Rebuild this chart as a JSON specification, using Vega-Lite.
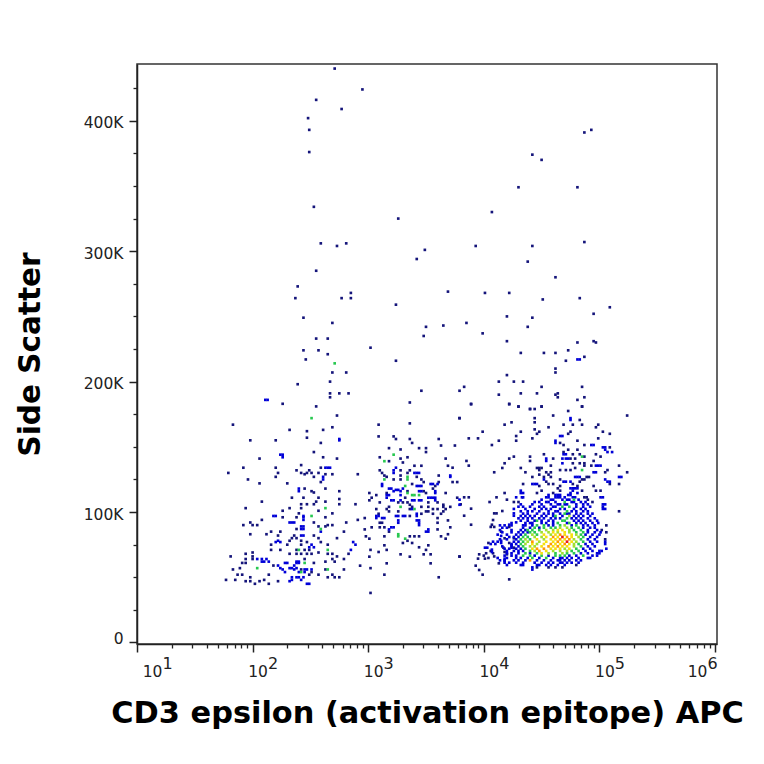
{"$schema":"https://vega.github.io/schema/vega-lite/v6.json","width":580,"height":580,"autosize":"none","padding":{"left":137,"top":64,"right":47,"bottom":120},"background":"white","config":{"view":{"stroke":"#333333","strokeWidth":1.5},"axis":{"grid":false,"labelFont":"DejaVu Sans","titleFont":"DejaVu Sans","tickColor":"#222222","domainColor":"#222222","labelColor":"#222222","labelBound":false,"labelFlush":false,"labelOverlap":false}},"datasets":{"cells":[
{"apc":2.71,"ssc":440,"n":1},{"apc":2.95,"ssc":424,"n":1},{"apc":2.55,"ssc":416,"n":1},{"apc":2.77,"ssc":409,"n":1},{"apc":2.48,"ssc":402,"n":1},{"apc":2.49,"ssc":393,"n":1},{"apc":2.49,"ssc":376,"n":1},{"apc":2.53,"ssc":334,"n":1},{"apc":3.26,"ssc":325,"n":1},
{"apc":2.59,"ssc":306,"n":1},{"apc":2.73,"ssc":304,"n":1},{"apc":2.81,"ssc":306,"n":1},{"apc":2.55,"ssc":285,"n":1},{"apc":2.39,"ssc":273,"n":1},{"apc":2.37,"ssc":264,"n":1},{"apc":2.77,"ssc":264,"n":1},{"apc":2.85,"ssc":268,"n":1},{"apc":2.85,"ssc":264,"n":1},{"apc":3.24,"ssc":259,"n":1},{"apc":2.44,"ssc":249,"n":1},{"apc":2.69,"ssc":245,"n":1},{"apc":2.55,"ssc":233,"n":1},{"apc":2.65,"ssc":233,"n":1},{"apc":2.44,"ssc":224,"n":1},{"apc":2.57,"ssc":224,"n":1},{"apc":3.02,"ssc":226,"n":1},{"apc":2.65,"ssc":221,"n":1},{"apc":2.46,"ssc":217,"n":1},{"apc":2.71,"ssc":214,"n":3},{"apc":3.24,"ssc":216,"n":1},{"apc":2.69,"ssc":207,"n":1},{"apc":2.81,"ssc":207,"n":1},{"apc":2.67,"ssc":200,"n":1},{"apc":2.39,"ssc":198,"n":1},{"apc":2.67,"ssc":191,"n":1},{"apc":2.75,"ssc":191,"n":1},{"apc":2.83,"ssc":191,"n":1},{"apc":2.67,"ssc":188,"n":1},{"apc":2.11,"ssc":186,"n":2},{"apc":2.13,"ssc":186,"n":2},
{"apc":4.87,"ssc":391,"n":1},{"apc":4.93,"ssc":393,"n":1},{"apc":4.42,"ssc":374,"n":1},{"apc":4.5,"ssc":370,"n":1},{"apc":4.3,"ssc":349,"n":1},{"apc":4.81,"ssc":349,"n":1},{"apc":4.07,"ssc":330,"n":1},{"apc":3.49,"ssc":301,"n":1},{"apc":3.42,"ssc":294,"n":1},{"apc":3.93,"ssc":304,"n":1},{"apc":4.42,"ssc":304,"n":1},{"apc":4.38,"ssc":292,"n":1},{"apc":4.87,"ssc":307,"n":1},
{"apc":4.62,"ssc":280,"n":1},{"apc":3.69,"ssc":269,"n":1},{"apc":4.01,"ssc":268,"n":1},{"apc":4.22,"ssc":268,"n":1},{"apc":4.51,"ssc":263,"n":1},{"apc":4.83,"ssc":264,"n":1},{"apc":5.09,"ssc":257,"n":1},{"apc":4.95,"ssc":252,"n":1},{"apc":4.2,"ssc":250,"n":1},{"apc":4.42,"ssc":249,"n":1},{"apc":3.5,"ssc":242,"n":1},{"apc":3.65,"ssc":243,"n":1},{"apc":3.85,"ssc":245,"n":1},{"apc":4.38,"ssc":242,"n":1},{"apc":3.48,"ssc":235,"n":1},{"apc":3.99,"ssc":237,"n":1},{"apc":4.2,"ssc":231,"n":1},{"apc":4.81,"ssc":230,"n":1},{"apc":4.95,"ssc":231,"n":1},{"apc":4.97,"ssc":230,"n":1},{"apc":4.32,"ssc":222,"n":1},{"apc":4.52,"ssc":222,"n":1},{"apc":4.62,"ssc":222,"n":1},{"apc":4.73,"ssc":224,"n":1},{"apc":4.71,"ssc":216,"n":1},{"apc":4.81,"ssc":217,"n":2},{"apc":4.83,"ssc":217,"n":2},{"apc":4.87,"ssc":219,"n":1},{"apc":4.62,"ssc":210,"n":1},{"apc":4.62,"ssc":207,"n":1},{"apc":4.2,"ssc":205,"n":1},{"apc":4.13,"ssc":200,"n":1},{"apc":4.26,"ssc":200,"n":1},{"apc":4.34,"ssc":200,"n":1},{"apc":4.5,"ssc":196,"n":1},{"apc":4.85,"ssc":196,"n":1},{"apc":3.46,"ssc":193,"n":1},{"apc":3.79,"ssc":193,"n":1},{"apc":3.83,"ssc":196,"n":1},{"apc":3.36,"ssc":184,"n":1},{"apc":4.13,"ssc":190,"n":1},{"apc":4.32,"ssc":191,"n":1},{"apc":4.46,"ssc":191,"n":1},{"apc":4.64,"ssc":191,"n":1},{"apc":4.62,"ssc":190,"n":1},{"apc":4.64,"ssc":188,"n":1},{"apc":4.87,"ssc":188,"n":1},{"apc":4.81,"ssc":186,"n":1},{"apc":3.89,"ssc":183,"n":1},{"apc":4.22,"ssc":183,"n":1},{"apc":4.3,"ssc":181,"n":1},{"apc":4.5,"ssc":181,"n":1},{"apc":4.85,"ssc":181,"n":1},{"apc":4.4,"ssc":179,"n":1},{"apc":4.44,"ssc":179,"n":1},
{"apc":2.26,"ssc":183,"n":1},{"apc":2.55,"ssc":181,"n":1},{"apc":2.51,"ssc":172,"n":3},{"apc":2.73,"ssc":174,"n":1},{"apc":1.83,"ssc":167,"n":1},{"apc":2.32,"ssc":163,"n":1},{"apc":2.47,"ssc":162,"n":1},{"apc":2.61,"ssc":163,"n":1},{"apc":2.69,"ssc":165,"n":1},{"apc":2.47,"ssc":157,"n":1},{"apc":1.98,"ssc":155,"n":1},{"apc":2.2,"ssc":155,"n":1},{"apc":2.59,"ssc":153,"n":1},{"apc":2.75,"ssc":156,"n":2},{"apc":2.75,"ssc":155,"n":2},{"apc":2.24,"ssc":144,"n":2},{"apc":2.26,"ssc":144,"n":2},{"apc":2.26,"ssc":142,"n":2},{"apc":2.53,"ssc":146,"n":1},{"apc":2.06,"ssc":141,"n":1},{"apc":2.61,"ssc":142,"n":1},{"apc":2.73,"ssc":141,"n":1},{"apc":2.42,"ssc":136,"n":1},{"apc":2.2,"ssc":134,"n":1},{"apc":1.92,"ssc":134,"n":1},{"apc":1.79,"ssc":130,"n":1},{"apc":2.22,"ssc":130,"n":1},{"apc":2.2,"ssc":127,"n":1},{"apc":2.38,"ssc":132,"n":1},{"apc":2.42,"ssc":130,"n":1},{"apc":2.49,"ssc":132,"n":1},{"apc":2.47,"ssc":130,"n":1},{"apc":2.45,"ssc":129,"n":1},{"apc":2.51,"ssc":130,"n":1},{"apc":2.57,"ssc":130,"n":1},{"apc":2.63,"ssc":134,"n":2},{"apc":2.65,"ssc":134,"n":2},{"apc":2.67,"ssc":134,"n":2},{"apc":2.59,"ssc":134,"n":1},{"apc":2.61,"ssc":127,"n":2},{"apc":2.61,"ssc":125,"n":2},{"apc":2.63,"ssc":129,"n":1},{"apc":2.69,"ssc":129,"n":1},{"apc":2.53,"ssc":127,"n":1},{"apc":2.59,"ssc":123,"n":1},{"apc":1.96,"ssc":125,"n":1},{"apc":2.06,"ssc":122,"n":1},{"apc":2.3,"ssc":122,"n":1},{"apc":2.91,"ssc":129,"n":1},{"apc":2.4,"ssc":118,"n":2},{"apc":2.4,"ssc":116,"n":2},{"apc":2.45,"ssc":118,"n":1},{"apc":2.51,"ssc":116,"n":1},{"apc":2.53,"ssc":115,"n":1},{"apc":2.63,"ssc":118,"n":1},{"apc":2.75,"ssc":116,"n":1},{"apc":2.75,"ssc":110,"n":1},{"apc":2.75,"ssc":106,"n":1},{"apc":2.34,"ssc":111,"n":1},{"apc":2.44,"ssc":111,"n":1},{"apc":2.57,"ssc":111,"n":1},{"apc":2.08,"ssc":108,"n":1},{"apc":2.55,"ssc":108,"n":1},{"apc":2.42,"ssc":106,"n":1},{"apc":2.47,"ssc":106,"n":1},{"apc":2.53,"ssc":106,"n":1},{"apc":2.89,"ssc":106,"n":1},{"apc":2.63,"ssc":108,"n":1},{"apc":2.63,"ssc":103,"n":3},{"apc":1.94,"ssc":103,"n":1},{"apc":2.32,"ssc":103,"n":1},{"apc":2.26,"ssc":101,"n":1},{"apc":2.42,"ssc":103,"n":1},{"apc":2.4,"ssc":99,"n":1},{"apc":2.51,"ssc":97,"n":3},{"apc":2.69,"ssc":99,"n":1},{"apc":2.57,"ssc":101,"n":1},{"apc":2.18,"ssc":97,"n":2},{"apc":2.2,"ssc":97,"n":2},{"apc":2.26,"ssc":96,"n":1},{"apc":2.38,"ssc":96,"n":1},{"apc":2.44,"ssc":97,"n":2},{"apc":2.44,"ssc":96,"n":2},{"apc":2.44,"ssc":94,"n":2},{"apc":2.63,"ssc":96,"n":1},{"apc":2.08,"ssc":94,"n":1},{"apc":2.36,"ssc":92,"n":2},{"apc":2.32,"ssc":92,"n":2},{"apc":2.34,"ssc":92,"n":2},{"apc":2.53,"ssc":92,"n":1},{"apc":1.92,"ssc":90,"n":1},{"apc":1.98,"ssc":92,"n":1},{"apc":2.0,"ssc":90,"n":1},{"apc":2.04,"ssc":90,"n":1},{"apc":2.69,"ssc":90,"n":1},{"apc":2.81,"ssc":92,"n":1},{"apc":2.91,"ssc":94,"n":1},{"apc":2.65,"ssc":90,"n":1},{"apc":2.63,"ssc":89,"n":1},{"apc":2.57,"ssc":89,"n":1},{"apc":2.59,"ssc":87,"n":3},{"apc":2.59,"ssc":85,"n":2},{"apc":2.42,"ssc":89,"n":2},{"apc":2.44,"ssc":89,"n":2},{"apc":2.42,"ssc":87,"n":2},{"apc":2.44,"ssc":87,"n":2},{"apc":2.38,"ssc":87,"n":1},{"apc":2.16,"ssc":85,"n":1},{"apc":2.12,"ssc":83,"n":1},{"apc":2.24,"ssc":85,"n":1},{"apc":1.98,"ssc":83,"n":1},{"apc":2.79,"ssc":85,"n":1},{"apc":2.42,"ssc":82,"n":2},{"apc":2.44,"ssc":82,"n":2},{"apc":2.36,"ssc":82,"n":1},{"apc":2.34,"ssc":80,"n":1},{"apc":2.22,"ssc":82,"n":1},{"apc":2.38,"ssc":80,"n":1},{"apc":2.53,"ssc":82,"n":1},{"apc":2.73,"ssc":80,"n":1},{"apc":2.57,"ssc":80,"n":1},{"apc":2.22,"ssc":78,"n":2},{"apc":2.24,"ssc":77,"n":2},{"apc":2.2,"ssc":77,"n":2},{"apc":2.16,"ssc":75,"n":1},{"apc":2.32,"ssc":78,"n":1},{"apc":2.42,"ssc":78,"n":1},{"apc":2.47,"ssc":77,"n":1},{"apc":2.59,"ssc":77,"n":1},{"apc":2.65,"ssc":75,"n":1},{"apc":2.51,"ssc":75,"n":2},{"apc":2.49,"ssc":73,"n":2},{"apc":2.53,"ssc":73,"n":2},{"apc":2.87,"ssc":77,"n":2},{"apc":2.89,"ssc":75,"n":2},{"apc":2.85,"ssc":71,"n":2},{"apc":2.83,"ssc":68,"n":1},{"apc":2.16,"ssc":71,"n":1},{"apc":2.24,"ssc":71,"n":1},{"apc":2.3,"ssc":75,"n":1},{"apc":2.38,"ssc":71,"n":1},{"apc":2.42,"ssc":75,"n":1},{"apc":2.4,"ssc":71,"n":3},{"apc":2.45,"ssc":71,"n":1},{"apc":2.49,"ssc":71,"n":1},{"apc":2.65,"ssc":71,"n":3},{"apc":2.79,"ssc":64,"n":1},{"apc":2.73,"ssc":66,"n":1},{"apc":2.65,"ssc":68,"n":1},{"apc":2.69,"ssc":68,"n":1},{"apc":2.57,"ssc":69,"n":1},{"apc":2.51,"ssc":68,"n":1},{"apc":2.38,"ssc":68,"n":1},{"apc":2.47,"ssc":68,"n":1},{"apc":2.42,"ssc":68,"n":1},{"apc":2.0,"ssc":69,"n":1},{"apc":2.0,"ssc":66,"n":1},{"apc":1.94,"ssc":68,"n":1},{"apc":1.81,"ssc":66,"n":1},{"apc":1.94,"ssc":64,"n":1},{"apc":2.08,"ssc":64,"n":2},{"apc":2.0,"ssc":64,"n":1},{"apc":2.04,"ssc":64,"n":2},{"apc":2.12,"ssc":64,"n":2},{"apc":2.08,"ssc":62,"n":2},{"apc":2.1,"ssc":62,"n":2},{"apc":2.14,"ssc":62,"n":2},{"apc":2.18,"ssc":59,"n":1},{"apc":2.28,"ssc":61,"n":2},{"apc":2.3,"ssc":61,"n":2},{"apc":2.38,"ssc":62,"n":2},{"apc":2.4,"ssc":62,"n":2},{"apc":2.38,"ssc":61,"n":2},{"apc":2.4,"ssc":61,"n":2},{"apc":2.45,"ssc":64,"n":1},{"apc":2.45,"ssc":61,"n":3},{"apc":2.53,"ssc":61,"n":1},{"apc":2.63,"ssc":62,"n":1},{"apc":2.69,"ssc":64,"n":1},{"apc":2.71,"ssc":62,"n":1},{"apc":2.32,"ssc":68,"n":1},{"apc":1.91,"ssc":61,"n":1},{"apc":2.04,"ssc":57,"n":3},{"apc":1.94,"ssc":61,"n":1},{"apc":1.89,"ssc":57,"n":1},{"apc":2.22,"ssc":59,"n":2},{"apc":2.24,"ssc":57,"n":2},{"apc":2.26,"ssc":56,"n":2},{"apc":2.28,"ssc":54,"n":2},{"apc":2.32,"ssc":57,"n":2},{"apc":2.34,"ssc":57,"n":2},{"apc":2.36,"ssc":59,"n":2},{"apc":2.38,"ssc":57,"n":2},{"apc":2.36,"ssc":56,"n":2},{"apc":2.42,"ssc":56,"n":1},{"apc":2.45,"ssc":56,"n":2},{"apc":2.47,"ssc":56,"n":2},{"apc":2.51,"ssc":56,"n":2},{"apc":2.65,"ssc":56,"n":3},{"apc":2.63,"ssc":56,"n":1},{"apc":2.79,"ssc":56,"n":1},{"apc":1.83,"ssc":56,"n":1},{"apc":2.14,"ssc":52,"n":1},{"apc":1.87,"ssc":52,"n":1},{"apc":1.91,"ssc":52,"n":1},{"apc":2.1,"ssc":48,"n":1},{"apc":1.98,"ssc":50,"n":1},{"apc":1.77,"ssc":48,"n":1},{"apc":1.85,"ssc":48,"n":1},{"apc":1.94,"ssc":47,"n":1},{"apc":1.98,"ssc":47,"n":1},{"apc":2.02,"ssc":45,"n":1},{"apc":2.06,"ssc":47,"n":1},{"apc":2.14,"ssc":45,"n":1},{"apc":2.22,"ssc":47,"n":1},{"apc":2.32,"ssc":47,"n":2},{"apc":2.34,"ssc":48,"n":2},{"apc":2.34,"ssc":50,"n":2},{"apc":2.38,"ssc":50,"n":2},{"apc":2.4,"ssc":54,"n":2},{"apc":2.42,"ssc":54,"n":3},{"apc":2.4,"ssc":50,"n":2},{"apc":2.42,"ssc":48,"n":2},{"apc":2.44,"ssc":50,"n":2},{"apc":2.45,"ssc":54,"n":2},{"apc":2.49,"ssc":52,"n":1},{"apc":2.51,"ssc":54,"n":1},{"apc":2.57,"ssc":52,"n":1},{"apc":2.65,"ssc":50,"n":1},{"apc":2.69,"ssc":52,"n":1},{"apc":2.71,"ssc":50,"n":1},{"apc":2.75,"ssc":50,"n":1},{"apc":2.49,"ssc":45,"n":2},{"apc":2.47,"ssc":45,"n":2},
{"apc":3.79,"ssc":172,"n":1},{"apc":3.36,"ssc":168,"n":1},{"apc":3.09,"ssc":167,"n":1},{"apc":3.09,"ssc":158,"n":1},{"apc":3.22,"ssc":158,"n":1},{"apc":3.24,"ssc":156,"n":1},{"apc":3.36,"ssc":156,"n":1},{"apc":3.38,"ssc":153,"n":1},{"apc":3.61,"ssc":156,"n":1},{"apc":3.63,"ssc":151,"n":1},{"apc":3.75,"ssc":151,"n":1},{"apc":3.18,"ssc":149,"n":1},{"apc":3.28,"ssc":148,"n":1},{"apc":3.44,"ssc":149,"n":1},{"apc":3.5,"ssc":149,"n":1},{"apc":3.5,"ssc":146,"n":1},{"apc":3.22,"ssc":144,"n":3},{"apc":3.1,"ssc":142,"n":1},{"apc":3.34,"ssc":142,"n":1},{"apc":3.67,"ssc":141,"n":1},{"apc":3.14,"ssc":139,"n":3},{"apc":3.18,"ssc":139,"n":1},{"apc":3.28,"ssc":141,"n":1},{"apc":3.3,"ssc":138,"n":1},{"apc":3.4,"ssc":135.5,"n":1},{"apc":3.46,"ssc":135.5,"n":1},{"apc":3.69,"ssc":135.5,"n":1},{"apc":3.73,"ssc":134,"n":1},{"apc":3.1,"ssc":132,"n":1},{"apc":3.24,"ssc":134,"n":2},{"apc":3.22,"ssc":132,"n":2},{"apc":3.28,"ssc":132,"n":1},{"apc":3.36,"ssc":132,"n":1},{"apc":3.12,"ssc":130,"n":1},{"apc":3.4,"ssc":130,"n":2},{"apc":3.42,"ssc":130,"n":2},{"apc":3.44,"ssc":130,"n":2},{"apc":3.28,"ssc":128,"n":1},{"apc":3.14,"ssc":128,"n":1},{"apc":3.34,"ssc":130,"n":1},{"apc":3.22,"ssc":130,"n":2},{"apc":3.71,"ssc":128,"n":2},{"apc":3.71,"ssc":127,"n":2},{"apc":3.61,"ssc":128,"n":1},{"apc":3.16,"ssc":127,"n":1},{"apc":3.34,"ssc":127,"n":3},{"apc":3.42,"ssc":127,"n":1},{"apc":3.22,"ssc":125,"n":1},{"apc":3.28,"ssc":125,"n":1},{"apc":3.34,"ssc":125,"n":3},{"apc":3.14,"ssc":125,"n":3},{"apc":3.46,"ssc":125,"n":1},{"apc":3.73,"ssc":123,"n":1},{"apc":3.77,"ssc":123,"n":1},{"apc":3.61,"ssc":123,"n":1},{"apc":3.6,"ssc":121.5,"n":2},{"apc":3.54,"ssc":121.5,"n":2},{"apc":3.56,"ssc":121.5,"n":2},{"apc":3.38,"ssc":121.5,"n":1},{"apc":3.48,"ssc":123,"n":1},{"apc":3.12,"ssc":121.5,"n":2},{"apc":3.12,"ssc":120,"n":2},{"apc":3.32,"ssc":120,"n":3},{"apc":3.42,"ssc":120,"n":2},{"apc":3.44,"ssc":120,"n":2},{"apc":3.46,"ssc":120,"n":2},{"apc":3.58,"ssc":120,"n":1},{"apc":3.56,"ssc":118,"n":1},{"apc":3.18,"ssc":118,"n":2},{"apc":3.2,"ssc":118,"n":2},{"apc":3.24,"ssc":117,"n":2},{"apc":3.26,"ssc":117,"n":2},{"apc":3.3,"ssc":118,"n":2},{"apc":3.34,"ssc":116,"n":1},{"apc":3.48,"ssc":116,"n":1},{"apc":3.67,"ssc":114.6,"n":1},{"apc":3.16,"ssc":114.6,"n":1},{"apc":3.01,"ssc":114.6,"n":1},{"apc":3.07,"ssc":113,"n":1},{"apc":3.22,"ssc":116,"n":2},{"apc":3.28,"ssc":116,"n":2},{"apc":3.34,"ssc":114.6,"n":3},{"apc":3.44,"ssc":116,"n":2},{"apc":3.46,"ssc":116,"n":2},{"apc":3.58,"ssc":116,"n":2},{"apc":3.58,"ssc":114.6,"n":2},{"apc":3.38,"ssc":113,"n":3},{"apc":3.4,"ssc":113,"n":3},{"apc":3.44,"ssc":113,"n":3},{"apc":3.16,"ssc":113,"n":2},{"apc":3.18,"ssc":113,"n":2},{"apc":3.28,"ssc":113,"n":2},{"apc":3.5,"ssc":114.6,"n":1},{"apc":3.03,"ssc":111,"n":1},{"apc":3.16,"ssc":111,"n":2},{"apc":3.77,"ssc":111,"n":1},{"apc":3.52,"ssc":111,"n":2},{"apc":3.54,"ssc":111,"n":2},{"apc":3.56,"ssc":111,"n":2},{"apc":3.58,"ssc":111,"n":2},{"apc":3.58,"ssc":109,"n":2},{"apc":3.38,"ssc":109,"n":2},{"apc":3.4,"ssc":109,"n":2},{"apc":3.44,"ssc":109,"n":2},{"apc":3.46,"ssc":109,"n":2},{"apc":3.2,"ssc":109,"n":2},{"apc":3.22,"ssc":109,"n":2},{"apc":3.28,"ssc":109,"n":2},{"apc":3.01,"ssc":109,"n":1},{"apc":3.32,"ssc":111,"n":1},{"apc":3.1,"ssc":107.4,"n":1},{"apc":3.26,"ssc":107.4,"n":1},{"apc":3.3,"ssc":107.4,"n":1},{"apc":3.34,"ssc":107.4,"n":1},{"apc":3.52,"ssc":107.4,"n":1},{"apc":3.6,"ssc":107.4,"n":1},{"apc":3.79,"ssc":105.6,"n":2},{"apc":3.65,"ssc":105.6,"n":1},{"apc":3.18,"ssc":104,"n":1},{"apc":3.28,"ssc":104,"n":3},{"apc":3.36,"ssc":105.6,"n":1},{"apc":3.38,"ssc":104,"n":1},{"apc":3.46,"ssc":104,"n":1},{"apc":3.52,"ssc":104,"n":1},{"apc":3.65,"ssc":104,"n":1},{"apc":3.71,"ssc":104,"n":1},{"apc":3.07,"ssc":102.3,"n":1},{"apc":3.16,"ssc":102.3,"n":1},{"apc":3.38,"ssc":102.3,"n":2},{"apc":3.4,"ssc":102.3,"n":3},{"apc":3.56,"ssc":102.3,"n":1},{"apc":3.6,"ssc":102.3,"n":1},{"apc":3.67,"ssc":102.3,"n":1},{"apc":3.09,"ssc":98.7,"n":1},{"apc":3.18,"ssc":100.5,"n":1},{"apc":3.36,"ssc":102.3,"n":1},{"apc":3.5,"ssc":100.5,"n":1},{"apc":3.65,"ssc":100.5,"n":1},{"apc":3.52,"ssc":100.5,"n":1},{"apc":3.26,"ssc":100.5,"n":1},{"apc":3.24,"ssc":97,"n":2},{"apc":3.26,"ssc":97,"n":2},{"apc":3.3,"ssc":97,"n":2},{"apc":3.32,"ssc":97,"n":2},{"apc":3.36,"ssc":97,"n":1},{"apc":3.42,"ssc":98.7,"n":2},{"apc":3.46,"ssc":98.7,"n":1},{"apc":3.42,"ssc":97,"n":2},{"apc":3.56,"ssc":98.7,"n":1},{"apc":3.6,"ssc":95.4,"n":1},{"apc":3.63,"ssc":98.7,"n":1},{"apc":3.07,"ssc":97,"n":2},{"apc":3.09,"ssc":97,"n":2},{"apc":3.12,"ssc":95.4,"n":2},{"apc":3.14,"ssc":95.4,"n":2},{"apc":2.97,"ssc":95.4,"n":1},{"apc":3.07,"ssc":95.4,"n":2},{"apc":3.26,"ssc":93.6,"n":2},{"apc":3.26,"ssc":91.8,"n":2},{"apc":3.42,"ssc":93.6,"n":2},{"apc":3.44,"ssc":93.6,"n":2},{"apc":3.44,"ssc":91.8,"n":2},{"apc":3.6,"ssc":91.8,"n":1},{"apc":3.69,"ssc":93.6,"n":1},{"apc":3.1,"ssc":91.8,"n":1},{"apc":3.12,"ssc":91.8,"n":1},{"apc":3.44,"ssc":90,"n":2},{"apc":3.2,"ssc":88.3,"n":2},{"apc":3.22,"ssc":88.3,"n":2},{"apc":3.03,"ssc":88.3,"n":1},{"apc":3.1,"ssc":88.3,"n":1},{"apc":3.14,"ssc":88.3,"n":1},{"apc":2.97,"ssc":86.7,"n":1},{"apc":3.18,"ssc":86.7,"n":2},{"apc":3.6,"ssc":86.7,"n":1},{"apc":3.52,"ssc":86.7,"n":2},{"apc":3.5,"ssc":85,"n":2},{"apc":3.52,"ssc":85,"n":2},{"apc":3.71,"ssc":88.3,"n":1},{"apc":3.18,"ssc":85,"n":1},{"apc":3.26,"ssc":83,"n":3},{"apc":3.14,"ssc":81.4,"n":1},{"apc":3.26,"ssc":81.4,"n":3},{"apc":3.36,"ssc":81.4,"n":1},{"apc":3.4,"ssc":81.4,"n":1},{"apc":3.44,"ssc":81.4,"n":1},{"apc":2.98,"ssc":81.4,"n":1},{"apc":3.01,"ssc":79.6,"n":1},{"apc":3.63,"ssc":81.4,"n":1},{"apc":3.69,"ssc":83,"n":1},{"apc":3.67,"ssc":79.6,"n":1},{"apc":3.3,"ssc":76.3,"n":1},{"apc":3.32,"ssc":79.6,"n":3},{"apc":3.34,"ssc":78,"n":1},{"apc":3.38,"ssc":76.3,"n":1},{"apc":3.44,"ssc":73,"n":1},{"apc":3.52,"ssc":74.5,"n":1},{"apc":3.14,"ssc":74.5,"n":1},{"apc":3.16,"ssc":71,"n":1},{"apc":3.02,"ssc":71,"n":1},{"apc":3.09,"ssc":69.4,"n":1},{"apc":3.5,"ssc":71,"n":1},{"apc":3.28,"ssc":67.6,"n":1},{"apc":3.36,"ssc":65.8,"n":1},{"apc":3.48,"ssc":67.6,"n":1},{"apc":3.54,"ssc":67.6,"n":1},{"apc":3.01,"ssc":65.8,"n":1},{"apc":3.79,"ssc":65.8,"n":1},{"apc":3.16,"ssc":60.7,"n":1},{"apc":3.54,"ssc":60.7,"n":1},{"apc":2.93,"ssc":58.9,"n":1},{"apc":3.02,"ssc":57,"n":1},{"apc":3.14,"ssc":52,"n":1},{"apc":3.61,"ssc":50,"n":1},{"apc":3.02,"ssc":38,"n":1},
{"apc":3.89,"ssc":182.6,"n":1},{"apc":4.22,"ssc":182.6,"n":1},{"apc":4.3,"ssc":180.8,"n":1},{"apc":4.4,"ssc":179,"n":1},{"apc":4.5,"ssc":180.8,"n":1},{"apc":4.85,"ssc":180.8,"n":1},{"apc":4.73,"ssc":177.5,"n":1},{"apc":4.6,"ssc":174,"n":1},{"apc":4.44,"ssc":172,"n":1},{"apc":4.75,"ssc":172,"n":2},{"apc":4.75,"ssc":170.6,"n":2},{"apc":3.79,"ssc":172,"n":1},{"apc":4.44,"ssc":168.8,"n":1},{"apc":4.24,"ssc":168.8,"n":1},{"apc":4.18,"ssc":167,"n":1},{"apc":4.83,"ssc":170.6,"n":1},{"apc":4.69,"ssc":167,"n":1},{"apc":4.77,"ssc":167,"n":1},{"apc":4.85,"ssc":167,"n":1},{"apc":4.56,"ssc":165,"n":1},{"apc":4.97,"ssc":165,"n":1},{"apc":4.99,"ssc":167,"n":1},{"apc":5.24,"ssc":174,"n":1},{"apc":4.44,"ssc":163.4,"n":1},{"apc":4.48,"ssc":161.6,"n":1},{"apc":4.46,"ssc":160,"n":1},{"apc":4.32,"ssc":161.6,"n":1},{"apc":3.99,"ssc":161.6,"n":1},{"apc":4.75,"ssc":161.6,"n":1},{"apc":4.73,"ssc":160,"n":1},{"apc":5.03,"ssc":161.6,"n":1},{"apc":5.09,"ssc":160,"n":1},{"apc":4.28,"ssc":158.3,"n":1},{"apc":4.66,"ssc":158.3,"n":2},{"apc":4.68,"ssc":158.3,"n":2},{"apc":4.28,"ssc":154.7,"n":1},{"apc":3.87,"ssc":156.5,"n":1},{"apc":3.95,"ssc":156.5,"n":1},{"apc":4.13,"ssc":154.7,"n":1},{"apc":4.42,"ssc":156.5,"n":1},{"apc":4.99,"ssc":156.5,"n":1},{"apc":4.62,"ssc":154.7,"n":2},{"apc":4.62,"ssc":153,"n":2},{"apc":4.81,"ssc":154.7,"n":1},{"apc":4.69,"ssc":151.4,"n":1},{"apc":4.66,"ssc":153,"n":1},{"apc":4.07,"ssc":151.4,"n":1},{"apc":4.87,"ssc":151.4,"n":1},{"apc":4.93,"ssc":151.4,"n":2},{"apc":4.95,"ssc":151.4,"n":2},{"apc":5.03,"ssc":149.6,"n":2},{"apc":5.05,"ssc":149.6,"n":2},{"apc":5.05,"ssc":147.8,"n":2},{"apc":5.09,"ssc":149.6,"n":1},{"apc":4.81,"ssc":147.8,"n":1},{"apc":4.73,"ssc":147.8,"n":1},{"apc":4.69,"ssc":146,"n":1},{"apc":5.07,"ssc":146,"n":2},{"apc":5.11,"ssc":146,"n":2},{"apc":4.52,"ssc":144.3,"n":1},{"apc":4.69,"ssc":144.3,"n":2},{"apc":4.71,"ssc":144.3,"n":2},{"apc":4.77,"ssc":144.3,"n":1},{"apc":4.83,"ssc":144.3,"n":1},{"apc":4.85,"ssc":142.5,"n":3},{"apc":4.97,"ssc":144.3,"n":1},{"apc":4.87,"ssc":142.5,"n":1},{"apc":4.26,"ssc":142.5,"n":1},{"apc":4.22,"ssc":141,"n":1},{"apc":4.4,"ssc":142.5,"n":1},{"apc":4.4,"ssc":139.2,"n":1},{"apc":4.54,"ssc":141,"n":2},{"apc":4.54,"ssc":139.2,"n":2},{"apc":4.6,"ssc":141,"n":1},{"apc":4.68,"ssc":141,"n":2},{"apc":4.68,"ssc":137.4,"n":2},{"apc":4.71,"ssc":141,"n":2},{"apc":4.73,"ssc":141,"n":2},{"apc":4.75,"ssc":141,"n":1},{"apc":4.79,"ssc":141,"n":1},{"apc":5.01,"ssc":142.5,"n":1},{"apc":4.95,"ssc":139.2,"n":1},{"apc":3.85,"ssc":139.2,"n":1},{"apc":4.18,"ssc":137.4,"n":1},{"apc":4.77,"ssc":137.4,"n":1},{"apc":4.83,"ssc":137.4,"n":1},{"apc":4.87,"ssc":137.4,"n":1},{"apc":4.93,"ssc":135.6,"n":1},{"apc":4.87,"ssc":135.6,"n":1},{"apc":3.87,"ssc":135.6,"n":1},{"apc":4.16,"ssc":133.8,"n":1},{"apc":4.32,"ssc":133.8,"n":1},{"apc":4.5,"ssc":133.8,"n":1},{"apc":4.48,"ssc":133.8,"n":1},{"apc":4.58,"ssc":135.6,"n":1},{"apc":4.97,"ssc":135.6,"n":2},{"apc":4.99,"ssc":135.6,"n":2},{"apc":5.01,"ssc":135.6,"n":2},{"apc":5.17,"ssc":135.6,"n":1},{"apc":4.66,"ssc":132.2,"n":1},{"apc":4.71,"ssc":132.2,"n":1},{"apc":4.75,"ssc":132.2,"n":1},{"apc":4.85,"ssc":132.2,"n":3},{"apc":4.79,"ssc":133.8,"n":1},{"apc":4.46,"ssc":133.8,"n":1},{"apc":4.48,"ssc":132.2,"n":1},{"apc":4.54,"ssc":130.5,"n":1},{"apc":4.09,"ssc":130.5,"n":1},{"apc":4.36,"ssc":130.5,"n":1},{"apc":4.58,"ssc":130.5,"n":1},{"apc":5.07,"ssc":132.2,"n":1},{"apc":5.05,"ssc":130.5,"n":1},{"apc":4.95,"ssc":130.5,"n":2},{"apc":4.97,"ssc":130.5,"n":2},{"apc":5.24,"ssc":130.5,"n":1},{"apc":5.17,"ssc":126.9,"n":2},{"apc":5.19,"ssc":126.9,"n":2},{"apc":4.56,"ssc":128.7,"n":1},{"apc":4.48,"ssc":128.7,"n":1},{"apc":4.81,"ssc":126.9,"n":2},{"apc":4.79,"ssc":126.9,"n":2},{"apc":4.83,"ssc":126.9,"n":2},{"apc":4.89,"ssc":126.9,"n":1},{"apc":4.91,"ssc":126.9,"n":1},{"apc":4.42,"ssc":126.9,"n":1},{"apc":4.52,"ssc":126.9,"n":1},{"apc":4.58,"ssc":126.9,"n":1},{"apc":4.66,"ssc":125,"n":1},{"apc":4.52,"ssc":125,"n":2},{"apc":4.54,"ssc":123.3,"n":1},{"apc":4.69,"ssc":123.3,"n":2},{"apc":4.71,"ssc":123.3,"n":2},{"apc":4.75,"ssc":123.3,"n":2},{"apc":4.85,"ssc":125,"n":1},{"apc":5.05,"ssc":125,"n":2},{"apc":5.07,"ssc":123.3,"n":2},{"apc":5.09,"ssc":123.3,"n":2},{"apc":4.83,"ssc":123.3,"n":1},{"apc":4.87,"ssc":125,"n":1},{"apc":4.42,"ssc":121.5,"n":2},{"apc":4.44,"ssc":121.5,"n":2},{"apc":4.46,"ssc":121.5,"n":2},{"apc":4.34,"ssc":121.5,"n":1},{"apc":4.6,"ssc":121.5,"n":1},{"apc":4.56,"ssc":121.5,"n":1},{"apc":4.77,"ssc":121.5,"n":1},{"apc":4.95,"ssc":120,"n":1},{"apc":5.09,"ssc":121.5,"n":1},{"apc":5.17,"ssc":121.5,"n":1},{"apc":4.81,"ssc":120,"n":1},{"apc":4.48,"ssc":120,"n":1},{"apc":4.66,"ssc":120,"n":1},{"apc":4.64,"ssc":118.2,"n":1},{"apc":4.5,"ssc":116.4,"n":1},{"apc":4.75,"ssc":118.2,"n":2},{"apc":4.77,"ssc":118.2,"n":2},{"apc":4.81,"ssc":118.2,"n":2},{"apc":4.79,"ssc":118.2,"n":2},{"apc":4.85,"ssc":116.4,"n":1},{"apc":4.97,"ssc":116.4,"n":1},{"apc":5.01,"ssc":116.4,"n":1},{"apc":4.32,"ssc":116.4,"n":2},{"apc":4.34,"ssc":114.6,"n":2},{"apc":4.18,"ssc":114.6,"n":1},{"apc":4.46,"ssc":114.6,"n":1},{"apc":4.6,"ssc":114.6,"n":1},{"apc":4.66,"ssc":116.4,"n":1},{"apc":4.77,"ssc":116.4,"n":2},{"apc":4.75,"ssc":114.6,"n":2},{"apc":4.81,"ssc":114.6,"n":2},{"apc":4.32,"ssc":114.6,"n":2},{"apc":4.56,"ssc":113.1,"n":2},{"apc":4.62,"ssc":113.1,"n":2},{"apc":4.64,"ssc":113.1,"n":2},{"apc":4.66,"ssc":113.1,"n":2},{"apc":4.73,"ssc":113.1,"n":2},{"apc":4.75,"ssc":113.1,"n":2},
{"apc":4.28,"ssc":111.3,"n":2},{"apc":3.87,"ssc":111.3,"n":1},{"apc":3.83,"ssc":111.3,"n":1},{"apc":3.79,"ssc":109.5,"n":2},{"apc":3.8,"ssc":105.9,"n":1},{"apc":4.05,"ssc":107.7,"n":1},{"apc":4.11,"ssc":111.3,"n":1},{"apc":4.2,"ssc":109.5,"n":1},{"apc":4.26,"ssc":107.7,"n":1},{"apc":3.89,"ssc":102.6,"n":1},{"apc":4.16,"ssc":100.8,"n":1},{"apc":4.09,"ssc":99,"n":1},{"apc":4.11,"ssc":99,"n":1},{"apc":3.83,"ssc":97.2,"n":1},{"apc":4.26,"ssc":99,"n":2},{"apc":4.26,"ssc":97.2,"n":2},{"apc":4.08,"ssc":93.9,"n":1},{"apc":4.28,"ssc":92.1,"n":2},{"apc":4.22,"ssc":90.3,"n":2},{"apc":4.07,"ssc":90.3,"n":1},{"apc":4.06,"ssc":88.6,"n":1},{"apc":4.09,"ssc":88.6,"n":1},{"apc":3.89,"ssc":90.3,"n":1},{"apc":4.15,"ssc":85,"n":1},{"apc":4.22,"ssc":88.6,"n":1},{"apc":4.15,"ssc":81.7,"n":2},{"apc":4.15,"ssc":78,"n":2},{"apc":4.15,"ssc":76.3,"n":2},{"apc":4.04,"ssc":76.3,"n":1},{"apc":4.18,"ssc":79.9,"n":1},{"apc":4.22,"ssc":76.3,"n":1},{"apc":4.24,"ssc":74.5,"n":2},{"apc":4.24,"ssc":72.7,"n":2},{"apc":4.26,"ssc":79.9,"n":1},{"apc":4.01,"ssc":72.7,"n":2},{"apc":4.03,"ssc":72.7,"n":2},{"apc":4.07,"ssc":71.2,"n":2},{"apc":4.07,"ssc":69.4,"n":2},{"apc":4.17,"ssc":72.7,"n":1},{"apc":4.26,"ssc":72.7,"n":1},{"apc":4.18,"ssc":69.4,"n":1},{"apc":4.2,"ssc":67.6,"n":1},{"apc":3.96,"ssc":67.6,"n":1},{"apc":4.09,"ssc":66,"n":1},{"apc":4.01,"ssc":64.3,"n":1},{"apc":3.95,"ssc":64.3,"n":1},{"apc":3.79,"ssc":66,"n":1},{"apc":4.18,"ssc":64.3,"n":2},{"apc":4.18,"ssc":62.5,"n":2},{"apc":4.13,"ssc":60.7,"n":1},{"apc":3.93,"ssc":58.9,"n":1},{"apc":3.96,"ssc":55.6,"n":1},{"apc":3.99,"ssc":52,"n":1},{"apc":4.22,"ssc":48.4,"n":1},
{"apc":4.33,"ssc":111.3,"n":2},{"apc":4.34,"ssc":111.3,"n":2},{"apc":4.54,"ssc":111.3,"n":2},{"apc":4.56,"ssc":111.3,"n":2},{"apc":4.62,"ssc":111.3,"n":2},{"apc":4.64,"ssc":111.3,"n":2},{"apc":4.66,"ssc":111.3,"n":2},{"apc":4.7,"ssc":111.3,"n":2},{"apc":4.77,"ssc":111.3,"n":2},{"apc":4.79,"ssc":111.3,"n":2},{"apc":4.87,"ssc":111.3,"n":1},{"apc":4.89,"ssc":111.3,"n":1},{"apc":5.01,"ssc":111.3,"n":2},{"apc":5.03,"ssc":111.3,"n":2},
{"apc":4.5,"ssc":109.5,"n":2},{"apc":4.58,"ssc":109.5,"n":2},{"apc":4.6,"ssc":109.5,"n":2},{"apc":4.68,"ssc":109.5,"n":2},{"apc":4.72,"ssc":109.5,"n":2},{"apc":4.74,"ssc":109.5,"n":2},{"apc":4.78,"ssc":109.5,"n":3},{"apc":4.82,"ssc":109.5,"n":2},{"apc":4.9,"ssc":109.5,"n":1},
{"apc":4.3,"ssc":107.7,"n":1},{"apc":4.44,"ssc":107.7,"n":2},{"apc":4.48,"ssc":107.7,"n":2},{"apc":4.54,"ssc":107.7,"n":2},{"apc":4.56,"ssc":107.7,"n":2},{"apc":4.62,"ssc":107.7,"n":2},{"apc":4.7,"ssc":107.7,"n":3},{"apc":4.76,"ssc":107.7,"n":2},{"apc":4.78,"ssc":107.7,"n":2},{"apc":4.84,"ssc":107.7,"n":2},{"apc":4.88,"ssc":107.7,"n":2},{"apc":4.94,"ssc":107.7,"n":1},
{"apc":4.32,"ssc":105.9,"n":2},{"apc":4.42,"ssc":105.9,"n":2},{"apc":4.5,"ssc":105.9,"n":2},{"apc":4.58,"ssc":105.9,"n":2},{"apc":4.64,"ssc":105.9,"n":2},{"apc":4.66,"ssc":105.9,"n":2},{"apc":4.7,"ssc":105.9,"n":2},{"apc":4.72,"ssc":105.9,"n":2},{"apc":4.8,"ssc":105.9,"n":2},{"apc":4.86,"ssc":105.9,"n":2},{"apc":4.9,"ssc":105.9,"n":2},{"apc":5.03,"ssc":105.9,"n":2},{"apc":5.05,"ssc":105.9,"n":2},
{"apc":4.3,"ssc":104.1,"n":2},{"apc":4.34,"ssc":104.1,"n":2},{"apc":4.4,"ssc":104.1,"n":2},{"apc":4.48,"ssc":104.1,"n":2},{"apc":4.52,"ssc":104.1,"n":2},{"apc":4.6,"ssc":104.1,"n":2},{"apc":4.62,"ssc":104.1,"n":2},{"apc":4.68,"ssc":104.1,"n":3},{"apc":4.74,"ssc":104.1,"n":3},{"apc":4.8,"ssc":104.1,"n":2},{"apc":4.86,"ssc":104.1,"n":2},{"apc":4.92,"ssc":104.1,"n":2},{"apc":5.03,"ssc":104.1,"n":2},
{"apc":4.26,"ssc":102.4,"n":2},{"apc":4.36,"ssc":102.4,"n":2},{"apc":4.44,"ssc":102.4,"n":2},{"apc":4.5,"ssc":102.4,"n":2},{"apc":4.54,"ssc":102.4,"n":2},{"apc":4.58,"ssc":102.4,"n":2},{"apc":4.66,"ssc":102.4,"n":2},{"apc":4.7,"ssc":102.4,"n":2},{"apc":4.78,"ssc":102.4,"n":2},{"apc":4.84,"ssc":102.4,"n":2},{"apc":4.88,"ssc":102.4,"n":2},{"apc":5.03,"ssc":102.4,"n":2},{"apc":5.05,"ssc":102.4,"n":2},
{"apc":4.32,"ssc":100.6,"n":2},{"apc":4.38,"ssc":100.6,"n":2},{"apc":4.42,"ssc":100.6,"n":2},{"apc":4.48,"ssc":100.6,"n":2},{"apc":4.56,"ssc":100.6,"n":2},{"apc":4.62,"ssc":100.6,"n":2},{"apc":4.64,"ssc":100.6,"n":2},{"apc":4.72,"ssc":100.6,"n":3},{"apc":4.76,"ssc":100.6,"n":2},{"apc":4.8,"ssc":100.6,"n":2},{"apc":4.86,"ssc":100.6,"n":2},{"apc":4.9,"ssc":100.6,"n":2},{"apc":5.17,"ssc":100.6,"n":1},
{"apc":4.34,"ssc":98.8,"n":2},{"apc":4.38,"ssc":98.8,"n":2},{"apc":4.46,"ssc":98.8,"n":2},{"apc":4.52,"ssc":98.8,"n":2},{"apc":4.56,"ssc":98.8,"n":2},{"apc":4.6,"ssc":98.8,"n":2},{"apc":4.66,"ssc":98.8,"n":2},{"apc":4.7,"ssc":98.8,"n":3},{"apc":4.72,"ssc":98.8,"n":2},{"apc":4.74,"ssc":98.8,"n":2},{"apc":4.8,"ssc":98.8,"n":2},{"apc":4.84,"ssc":98.8,"n":2},{"apc":4.9,"ssc":98.8,"n":2},{"apc":4.94,"ssc":98.8,"n":2},
{"apc":4.32,"ssc":97,"n":2},{"apc":4.36,"ssc":97,"n":2},{"apc":4.4,"ssc":97,"n":2},{"apc":4.44,"ssc":97,"n":2},{"apc":4.5,"ssc":97,"n":2},{"apc":4.54,"ssc":97,"n":2},{"apc":4.6,"ssc":97,"n":2},{"apc":4.62,"ssc":97,"n":3},{"apc":4.68,"ssc":97,"n":2},{"apc":4.74,"ssc":97,"n":4},{"apc":4.78,"ssc":97,"n":2},{"apc":4.82,"ssc":97,"n":2},{"apc":4.86,"ssc":97,"n":2},{"apc":4.92,"ssc":97,"n":2},
{"apc":4.3,"ssc":95.2,"n":2},{"apc":4.34,"ssc":95.2,"n":2},{"apc":4.38,"ssc":95.2,"n":2},{"apc":4.42,"ssc":95.2,"n":2},{"apc":4.48,"ssc":95.2,"n":2},{"apc":4.52,"ssc":95.2,"n":2},{"apc":4.58,"ssc":95.2,"n":2},{"apc":4.62,"ssc":95.2,"n":2},{"apc":4.66,"ssc":95.2,"n":2},{"apc":4.72,"ssc":95.2,"n":3},{"apc":4.76,"ssc":95.2,"n":2},{"apc":4.8,"ssc":95.2,"n":2},{"apc":4.84,"ssc":95.2,"n":2},{"apc":4.9,"ssc":95.2,"n":2},{"apc":4.96,"ssc":95.2,"n":2},
{"apc":4.32,"ssc":93.4,"n":2},{"apc":4.38,"ssc":93.4,"n":2},{"apc":4.44,"ssc":93.4,"n":2},{"apc":4.46,"ssc":93.4,"n":3},{"apc":4.5,"ssc":93.4,"n":2},{"apc":4.56,"ssc":93.4,"n":2},{"apc":4.6,"ssc":93.4,"n":2},{"apc":4.68,"ssc":93.4,"n":3},{"apc":4.7,"ssc":93.4,"n":3},{"apc":4.78,"ssc":93.4,"n":2},{"apc":4.82,"ssc":93.4,"n":2},{"apc":4.86,"ssc":93.4,"n":2},{"apc":4.92,"ssc":93.4,"n":2},{"apc":4.98,"ssc":93.4,"n":2},
{"apc":4.24,"ssc":91.6,"n":2},{"apc":4.36,"ssc":91.6,"n":2},{"apc":4.4,"ssc":91.6,"n":2},{"apc":4.42,"ssc":91.6,"n":2},{"apc":4.5,"ssc":91.6,"n":2},{"apc":4.54,"ssc":91.6,"n":2},{"apc":4.6,"ssc":91.6,"n":2},{"apc":4.64,"ssc":91.6,"n":3},{"apc":4.72,"ssc":91.6,"n":2},{"apc":4.74,"ssc":91.6,"n":3},{"apc":4.8,"ssc":91.6,"n":2},{"apc":4.84,"ssc":91.6,"n":2},{"apc":4.88,"ssc":91.6,"n":2},{"apc":4.94,"ssc":91.6,"n":2},{"apc":4.99,"ssc":91.6,"n":2},
{"apc":4.14,"ssc":89.8,"n":2},{"apc":4.18,"ssc":89.8,"n":2},{"apc":4.24,"ssc":89.8,"n":2},{"apc":4.34,"ssc":89.8,"n":2},{"apc":4.36,"ssc":89.8,"n":2},{"apc":4.42,"ssc":89.8,"n":2},{"apc":4.46,"ssc":89.8,"n":3},{"apc":4.52,"ssc":89.8,"n":3},{"apc":4.56,"ssc":89.8,"n":2},{"apc":4.6,"ssc":89.8,"n":2},{"apc":4.66,"ssc":89.8,"n":3},{"apc":4.7,"ssc":89.8,"n":4},{"apc":4.76,"ssc":89.8,"n":2},{"apc":4.8,"ssc":89.8,"n":3},{"apc":4.86,"ssc":89.8,"n":2},{"apc":4.9,"ssc":89.8,"n":2},{"apc":4.96,"ssc":89.8,"n":2},{"apc":5.06,"ssc":89.8,"n":1},
{"apc":4.16,"ssc":88,"n":2},{"apc":4.2,"ssc":88,"n":2},{"apc":4.34,"ssc":88,"n":2},{"apc":4.4,"ssc":88,"n":2},{"apc":4.44,"ssc":88,"n":3},{"apc":4.48,"ssc":88,"n":2},{"apc":4.52,"ssc":88,"n":3},{"apc":4.58,"ssc":88,"n":3},{"apc":4.62,"ssc":88,"n":3},{"apc":4.66,"ssc":88,"n":4},{"apc":4.72,"ssc":88,"n":4},{"apc":4.76,"ssc":88,"n":3},{"apc":4.82,"ssc":88,"n":3},{"apc":4.86,"ssc":88,"n":2},{"apc":4.92,"ssc":88,"n":2},{"apc":4.96,"ssc":88,"n":2},
{"apc":4.14,"ssc":86.2,"n":2},{"apc":4.24,"ssc":86.2,"n":2},{"apc":4.32,"ssc":86.2,"n":2},{"apc":4.36,"ssc":86.2,"n":2},{"apc":4.38,"ssc":86.2,"n":3},{"apc":4.42,"ssc":86.2,"n":3},{"apc":4.48,"ssc":86.2,"n":3},{"apc":4.54,"ssc":86.2,"n":4},{"apc":4.6,"ssc":86.2,"n":4},{"apc":4.64,"ssc":86.2,"n":5},{"apc":4.68,"ssc":86.2,"n":5},{"apc":4.74,"ssc":86.2,"n":4},{"apc":4.78,"ssc":86.2,"n":3},{"apc":4.84,"ssc":86.2,"n":3},{"apc":4.9,"ssc":86.2,"n":2},{"apc":4.98,"ssc":86.2,"n":2},{"apc":5.02,"ssc":86.2,"n":1},
{"apc":4.16,"ssc":84.5,"n":2},{"apc":4.24,"ssc":84.5,"n":2},{"apc":4.3,"ssc":84.5,"n":2},{"apc":4.34,"ssc":84.5,"n":2},{"apc":4.38,"ssc":84.5,"n":2},{"apc":4.4,"ssc":84.5,"n":3},{"apc":4.44,"ssc":84.5,"n":3},{"apc":4.5,"ssc":84.5,"n":4},{"apc":4.56,"ssc":84.5,"n":4},{"apc":4.6,"ssc":84.5,"n":5},{"apc":4.64,"ssc":84.5,"n":4},{"apc":4.7,"ssc":84.5,"n":5},{"apc":4.74,"ssc":84.5,"n":4},{"apc":4.8,"ssc":84.5,"n":3},{"apc":4.86,"ssc":84.5,"n":3},{"apc":4.9,"ssc":84.5,"n":2},{"apc":4.96,"ssc":84.5,"n":2},{"apc":5.01,"ssc":84.5,"n":2},{"apc":5.06,"ssc":84.5,"n":1},
{"apc":4.12,"ssc":82.7,"n":2},{"apc":4.2,"ssc":82.7,"n":2},{"apc":4.28,"ssc":82.7,"n":2},{"apc":4.32,"ssc":82.7,"n":2},{"apc":4.36,"ssc":82.7,"n":3},{"apc":4.42,"ssc":82.7,"n":4},{"apc":4.46,"ssc":82.7,"n":3},{"apc":4.52,"ssc":82.7,"n":5},{"apc":4.58,"ssc":82.7,"n":4},{"apc":4.62,"ssc":82.7,"n":5},{"apc":4.66,"ssc":82.7,"n":6},{"apc":4.7,"ssc":82.7,"n":5},{"apc":4.76,"ssc":82.7,"n":5},{"apc":4.8,"ssc":82.7,"n":4},{"apc":4.84,"ssc":82.7,"n":3},{"apc":4.88,"ssc":82.7,"n":2},{"apc":4.94,"ssc":82.7,"n":2},{"apc":5.0,"ssc":82.7,"n":2},
{"apc":4.22,"ssc":80.9,"n":2},{"apc":4.26,"ssc":80.9,"n":2},{"apc":4.3,"ssc":80.9,"n":2},{"apc":4.34,"ssc":80.9,"n":3},{"apc":4.38,"ssc":80.9,"n":3},{"apc":4.44,"ssc":80.9,"n":4},{"apc":4.5,"ssc":80.9,"n":4},{"apc":4.54,"ssc":80.9,"n":5},{"apc":4.6,"ssc":80.9,"n":6},{"apc":4.64,"ssc":80.9,"n":5},{"apc":4.68,"ssc":80.9,"n":7},{"apc":4.72,"ssc":80.9,"n":6},{"apc":4.76,"ssc":80.9,"n":5},{"apc":4.82,"ssc":80.9,"n":4},{"apc":4.86,"ssc":80.9,"n":3},{"apc":4.92,"ssc":80.9,"n":2},{"apc":4.98,"ssc":80.9,"n":2},
{"apc":4.14,"ssc":79.1,"n":2},{"apc":4.2,"ssc":79.1,"n":2},{"apc":4.28,"ssc":79.1,"n":2},{"apc":4.32,"ssc":79.1,"n":3},{"apc":4.36,"ssc":79.1,"n":4},{"apc":4.4,"ssc":79.1,"n":3},{"apc":4.46,"ssc":79.1,"n":5},{"apc":4.52,"ssc":79.1,"n":4},{"apc":4.58,"ssc":79.1,"n":5},{"apc":4.62,"ssc":79.1,"n":5},{"apc":4.66,"ssc":79.1,"n":6},{"apc":4.7,"ssc":79.1,"n":5},{"apc":4.74,"ssc":79.1,"n":6},{"apc":4.78,"ssc":79.1,"n":4},{"apc":4.84,"ssc":79.1,"n":3},{"apc":4.9,"ssc":79.1,"n":2},{"apc":4.96,"ssc":79.1,"n":2},{"apc":5.05,"ssc":79.1,"n":1},
{"apc":4.08,"ssc":77.3,"n":2},{"apc":4.12,"ssc":77.3,"n":2},{"apc":4.26,"ssc":77.3,"n":2},{"apc":4.3,"ssc":77.3,"n":2},{"apc":4.34,"ssc":77.3,"n":3},{"apc":4.38,"ssc":77.3,"n":4},{"apc":4.42,"ssc":77.3,"n":6},{"apc":4.48,"ssc":77.3,"n":4},{"apc":4.54,"ssc":77.3,"n":5},{"apc":4.6,"ssc":77.3,"n":5},{"apc":4.64,"ssc":77.3,"n":6},{"apc":4.68,"ssc":77.3,"n":5},{"apc":4.72,"ssc":77.3,"n":7},{"apc":4.76,"ssc":77.3,"n":5},{"apc":4.8,"ssc":77.3,"n":4},{"apc":4.86,"ssc":77.3,"n":3},{"apc":4.92,"ssc":77.3,"n":2},{"apc":4.98,"ssc":77.3,"n":2},{"apc":5.05,"ssc":77.3,"n":2},
{"apc":4.06,"ssc":75.5,"n":2},{"apc":4.1,"ssc":75.5,"n":2},{"apc":4.24,"ssc":75.5,"n":2},{"apc":4.28,"ssc":75.5,"n":2},{"apc":4.32,"ssc":75.5,"n":3},{"apc":4.36,"ssc":75.5,"n":4},{"apc":4.42,"ssc":75.5,"n":5},{"apc":4.46,"ssc":75.5,"n":4},{"apc":4.52,"ssc":75.5,"n":5},{"apc":4.58,"ssc":75.5,"n":6},{"apc":4.62,"ssc":75.5,"n":5},{"apc":4.66,"ssc":75.5,"n":5},{"apc":4.7,"ssc":75.5,"n":6},{"apc":4.74,"ssc":75.5,"n":5},{"apc":4.78,"ssc":75.5,"n":4},{"apc":4.82,"ssc":75.5,"n":3},{"apc":4.88,"ssc":75.5,"n":2},{"apc":4.94,"ssc":75.5,"n":2},{"apc":5.05,"ssc":75.5,"n":2},
{"apc":4.16,"ssc":73.7,"n":2},{"apc":4.24,"ssc":73.7,"n":2},{"apc":4.3,"ssc":73.7,"n":2},{"apc":4.34,"ssc":73.7,"n":3},{"apc":4.4,"ssc":73.7,"n":4},{"apc":4.44,"ssc":73.7,"n":4},{"apc":4.5,"ssc":73.7,"n":5},{"apc":4.56,"ssc":73.7,"n":6},{"apc":4.6,"ssc":73.7,"n":5},{"apc":4.64,"ssc":73.7,"n":6},{"apc":4.68,"ssc":73.7,"n":5},{"apc":4.72,"ssc":73.7,"n":5},{"apc":4.78,"ssc":73.7,"n":4},{"apc":4.84,"ssc":73.7,"n":3},{"apc":4.9,"ssc":73.7,"n":2},{"apc":4.96,"ssc":73.7,"n":2},
{"apc":4.18,"ssc":71.9,"n":2},{"apc":4.22,"ssc":71.9,"n":2},{"apc":4.28,"ssc":71.9,"n":2},{"apc":4.32,"ssc":71.9,"n":2},{"apc":4.36,"ssc":71.9,"n":3},{"apc":4.42,"ssc":71.9,"n":5},{"apc":4.46,"ssc":71.9,"n":6},{"apc":4.52,"ssc":71.9,"n":6},{"apc":4.58,"ssc":71.9,"n":5},{"apc":4.62,"ssc":71.9,"n":5},{"apc":4.66,"ssc":71.9,"n":5},{"apc":4.7,"ssc":71.9,"n":4},{"apc":4.74,"ssc":71.9,"n":5},{"apc":4.8,"ssc":71.9,"n":3},{"apc":4.86,"ssc":71.9,"n":2},{"apc":4.92,"ssc":71.9,"n":2},{"apc":5.06,"ssc":71.9,"n":2},
{"apc":4.06,"ssc":70.2,"n":1},{"apc":4.2,"ssc":70.2,"n":2},{"apc":4.26,"ssc":70.2,"n":2},{"apc":4.3,"ssc":70.2,"n":2},{"apc":4.34,"ssc":70.2,"n":2},{"apc":4.4,"ssc":70.2,"n":3},{"apc":4.44,"ssc":70.2,"n":4},{"apc":4.48,"ssc":70.2,"n":6},{"apc":4.54,"ssc":70.2,"n":5},{"apc":4.6,"ssc":70.2,"n":4},{"apc":4.66,"ssc":70.2,"n":4},{"apc":4.72,"ssc":70.2,"n":4},{"apc":4.76,"ssc":70.2,"n":3},{"apc":4.82,"ssc":70.2,"n":3},{"apc":4.88,"ssc":70.2,"n":2},{"apc":4.94,"ssc":70.2,"n":2},{"apc":5.0,"ssc":70.2,"n":2},{"apc":5.02,"ssc":70.2,"n":2},
{"apc":4.02,"ssc":68.4,"n":1},{"apc":4.08,"ssc":68.4,"n":1},{"apc":4.2,"ssc":68.4,"n":2},{"apc":4.24,"ssc":68.4,"n":2},{"apc":4.3,"ssc":68.4,"n":2},{"apc":4.36,"ssc":68.4,"n":3},{"apc":4.4,"ssc":68.4,"n":2},{"apc":4.46,"ssc":68.4,"n":3},{"apc":4.5,"ssc":68.4,"n":5},{"apc":4.56,"ssc":68.4,"n":4},{"apc":4.62,"ssc":68.4,"n":3},{"apc":4.68,"ssc":68.4,"n":4},{"apc":4.72,"ssc":68.4,"n":3},{"apc":4.78,"ssc":68.4,"n":3},{"apc":4.84,"ssc":68.4,"n":2},{"apc":4.9,"ssc":68.4,"n":2},{"apc":4.98,"ssc":68.4,"n":2},{"apc":5.0,"ssc":68.4,"n":2},
{"apc":4.0,"ssc":66.6,"n":1},{"apc":4.18,"ssc":66.6,"n":2},{"apc":4.24,"ssc":66.6,"n":2},{"apc":4.28,"ssc":66.6,"n":2},{"apc":4.34,"ssc":66.6,"n":3},{"apc":4.4,"ssc":66.6,"n":3},{"apc":4.44,"ssc":66.6,"n":2},{"apc":4.5,"ssc":66.6,"n":3},{"apc":4.56,"ssc":66.6,"n":2},{"apc":4.62,"ssc":66.6,"n":3},{"apc":4.66,"ssc":66.6,"n":3},{"apc":4.7,"ssc":66.6,"n":3},{"apc":4.74,"ssc":66.6,"n":2},{"apc":4.8,"ssc":66.6,"n":2},{"apc":4.86,"ssc":66.6,"n":3},{"apc":4.94,"ssc":66.6,"n":2},{"apc":4.98,"ssc":66.6,"n":2},
{"apc":4.04,"ssc":64.8,"n":1},{"apc":4.12,"ssc":64.8,"n":2},{"apc":4.2,"ssc":64.8,"n":2},{"apc":4.28,"ssc":64.8,"n":2},{"apc":4.32,"ssc":64.8,"n":2},{"apc":4.38,"ssc":64.8,"n":2},{"apc":4.42,"ssc":64.8,"n":3},{"apc":4.48,"ssc":64.8,"n":2},{"apc":4.54,"ssc":64.8,"n":3},{"apc":4.6,"ssc":64.8,"n":2},{"apc":4.66,"ssc":64.8,"n":2},{"apc":4.68,"ssc":64.8,"n":2},{"apc":4.72,"ssc":64.8,"n":2},{"apc":4.76,"ssc":64.8,"n":2},{"apc":4.82,"ssc":64.8,"n":2},{"apc":4.9,"ssc":64.8,"n":2},{"apc":4.92,"ssc":64.8,"n":2},
{"apc":4.14,"ssc":63,"n":2},{"apc":4.18,"ssc":63,"n":2},{"apc":4.26,"ssc":63,"n":2},{"apc":4.3,"ssc":63,"n":2},{"apc":4.36,"ssc":63,"n":2},{"apc":4.4,"ssc":63,"n":6},{"apc":4.46,"ssc":63,"n":2},{"apc":4.52,"ssc":63,"n":2},{"apc":4.58,"ssc":63,"n":2},{"apc":4.64,"ssc":63,"n":2},{"apc":4.66,"ssc":63,"n":2},{"apc":4.7,"ssc":63,"n":2},{"apc":4.74,"ssc":63,"n":2},{"apc":4.8,"ssc":63,"n":2},{"apc":4.84,"ssc":63,"n":2},
{"apc":4.18,"ssc":61.2,"n":2},{"apc":4.22,"ssc":61.2,"n":2},{"apc":4.28,"ssc":61.2,"n":2},{"apc":4.34,"ssc":61.2,"n":2},{"apc":4.44,"ssc":61.2,"n":2},{"apc":4.5,"ssc":61.2,"n":2},{"apc":4.56,"ssc":61.2,"n":2},{"apc":4.6,"ssc":61.2,"n":2},{"apc":4.66,"ssc":61.2,"n":2},{"apc":4.68,"ssc":61.2,"n":2},{"apc":4.72,"ssc":61.2,"n":2},{"apc":4.76,"ssc":61.2,"n":2},{"apc":4.82,"ssc":61.2,"n":2},
{"apc":4.2,"ssc":59.4,"n":2},{"apc":4.32,"ssc":59.4,"n":2},{"apc":4.34,"ssc":59.4,"n":2},{"apc":4.46,"ssc":59.4,"n":2},{"apc":4.48,"ssc":59.4,"n":2},{"apc":4.54,"ssc":59.4,"n":2},{"apc":4.58,"ssc":59.4,"n":2},{"apc":4.64,"ssc":59.4,"n":2},{"apc":4.7,"ssc":59.4,"n":2},{"apc":4.8,"ssc":59.4,"n":1},
{"apc":4.42,"ssc":57.6,"n":2},{"apc":4.46,"ssc":57.6,"n":1},{"apc":4.56,"ssc":57.6,"n":1},{"apc":4.62,"ssc":57.6,"n":1},{"apc":4.68,"ssc":57.6,"n":1},{"apc":4.42,"ssc":55.9,"n":2}
],"frame":[{"apc":1,"ssc":0}]},"layer":[{"data":{"name":"cells"},"mark":{"type":"square","size":7,"opacity":1},"encoding":{"x":{"field":"apc","type":"quantitative","scale":{"domain":[1,6.0173],"nice":false,"zero":false},"axis":{"orient":"bottom","values":[1,2,3,4,5,6],"domain":true,"domainWidth":1.5,"tickSize":8,"tickWidth":1.5,"labelExpr":"'10'","labelFontSize":15.5,"labelPadding":12,"labelOffset":{"expr":"datum.value==1?15:datum.value==6?-18:5"},"title":"CD3 epsilon (activation epitope) APC","titleFontSize":30.4,"titleFontWeight":"bold","titleColor":"#000000","titlePadding":19}},"y":{"field":"ssc","type":"quantitative","scale":{"domain":[-1.15,443.5],"nice":false,"zero":false},"axis":{"orient":"left","values":[0,100,200,300,400],"domain":true,"domainWidth":1.5,"tickSize":8,"tickWidth":1.5,"labelExpr":"datum.value==0?'0':datum.value+'K'","labelFontSize":15.5,"labelPadding":6,"labelOffset":{"expr":"datum.value==0?-4:2"},"title":"Side Scatter","titleFontSize":29.5,"titleFontWeight":"bold","titleColor":"#000000","titlePadding":38}},"color":{"field":"n","type":"ordinal","scale":{"domain":[1,2,3,4,5,6,7],"range":["#14147a","#0000d8","#28c850","#a0e030","#f5e010","#ff9a00","#e81818"]},"legend":null},"order":{"field":"n","type":"quantitative"}}},{"data":{"name":"frame"},"mark":{"type":"point","opacity":0},"encoding":{"x":{"field":"apc","type":"quantitative","axis":{"orient":"bottom","values":[1.301,1.477,1.602,1.699,1.778,1.845,1.903,1.954,2.301,2.477,2.602,2.699,2.778,2.845,2.903,2.954,3.301,3.477,3.602,3.699,3.778,3.845,3.903,3.954,4.301,4.477,4.602,4.699,4.778,4.845,4.903,4.954,5.301,5.477,5.602,5.699,5.778,5.845,5.903,5.954],"domain":false,"tickSize":4,"tickWidth":1.3,"labels":false,"title":null}},"y":{"field":"ssc","type":"quantitative","axis":{"orient":"left","values":[25,50,75,125,150,175,225,250,275,325,350,375,425],"domain":false,"tickSize":4,"tickWidth":1.3,"labels":false,"title":null}}}},{"data":{"name":"frame"},"mark":{"type":"point","opacity":0},"encoding":{"x":{"field":"apc","type":"quantitative","axis":{"orient":"bottom","values":[1,2,3,4,5,6],"domain":false,"ticks":false,"labelExpr":"''+datum.value","labelFontSize":16,"labelPadding":11,"labelOffset":{"expr":"datum.value==1?30:datum.value==6?-3:20"},"title":null}}}}],"resolve":{"axis":{"x":"independent","y":"independent"}}}
